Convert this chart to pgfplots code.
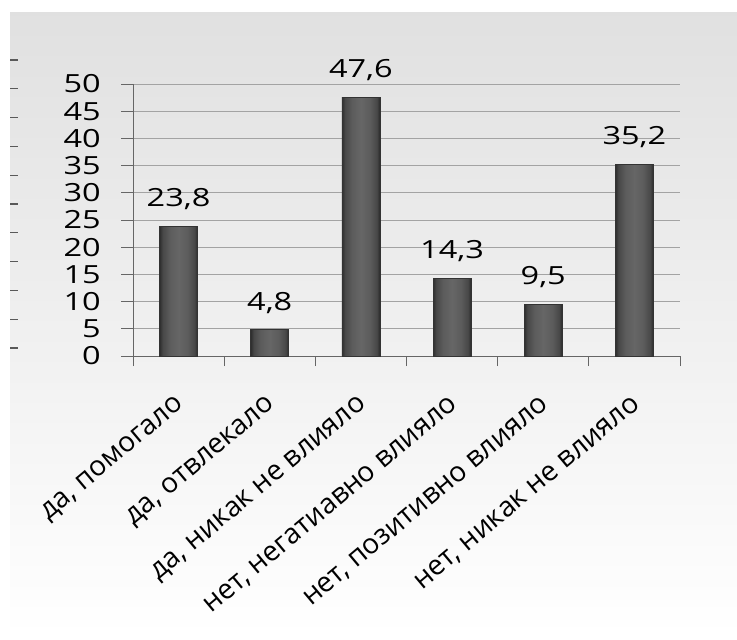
\documentclass[border=0pt]{standalone}
\usepackage{fontspec}
\setmainfont{Open Sans}[FakeStretch=1.3]
\newfontfamily\labfont{Open Sans}
\usepackage{pgfplots}
\pgfplotsset{compat=1.18}
\pgfplotsset{/pgf/number format/assume math mode=true}
\pgfdeclarehorizontalshading{barshade}{100bp}{color(0bp)=(black!82); color(25bp)=(black!82); color(29bp)=(black!72); color(38bp)=(black!64); color(50bp)=(black!60); color(62bp)=(black!64); color(71bp)=(black!72); color(75bp)=(black!84); color(100bp)=(black!84)}
\begin{document}
\begin{tikzpicture}
\fill[white] (0pt,0pt) rectangle (737pt,640pt);
\shade[top color=black!12, bottom color=white] (10pt,3pt) rectangle (737pt,627pt);
\begin{axis}[at={(133pt,284pt)}, anchor=origin, scale only axis,
  width=547pt, height=272pt,
  xmin=0, xmax=6, ymin=0, ymax=50,
  ytick={0,5,...,50},
  ymajorgrids, grid style={gray!72, line width=0.8pt},
  axis lines*=left, axis line style={gray!80!black, line width=0.8pt},
  tick align=outside,
  major tick length=12pt, minor tick length=10pt,
  tick style={gray!80!black, line width=0.8pt},
  xtick={0.5,1.5,2.5,3.5,4.5,5.5},
  major x tick style={draw=none},
  minor xtick={0,1,2,3,4,5,6},
  xticklabels={да{,} помогало, да{,} отвлекало, да{,} никак не влияло, нет{,} негатиавно влияло, нет{,} позитивно влияло, нет{,} никак не влияло},
  xticklabel style={font=\labfont\fontsize{28}{32}\selectfont, inner sep=0pt, xshift=3pt, yshift=-34pt, rotate=40, anchor=east},
  yticklabel style={font=\fontsize{25}{30}\selectfont, anchor=east, inner sep=0pt, xshift=-20pt},
  ybar, bar width=38pt, bar shift=0pt,
  nodes near coords={\pgfmathprintnumber[fixed,fixed zerofill,precision=1,use comma]{\pgfplotspointmeta}},
  every node near coord/.append style={font=\fontsize{25}{30}\selectfont, text=black, anchor=south, inner sep=0pt, yshift=16pt},
  clip=false,
  mybar/.style={draw=black!80, line width=0.8pt, shade, shading=barshade},
]
\addplot[mybar] coordinates {(0.5,23.8)};
\addplot[mybar] coordinates {(1.5,4.8)};
\addplot[mybar] coordinates {(2.5,47.6)};
\addplot[mybar] coordinates {(3.5,14.3)};
\addplot[mybar] coordinates {(4.5,9.5)};
\addplot[mybar] coordinates {(5.5,35.2)};
\end{axis}
% cropped neighbouring axis (ticks only)
\begin{axis}[at={(18pt,292pt)}, anchor=origin, scale only axis,
  width=1pt, height=288pt, ymin=0, ymax=10, ytick={0,...,10}, yticklabels={},
  xmin=0, xmax=1, hide x axis, axis y line*=left, y axis line style={draw=none},
  tick align=outside, major tick length=8pt, tick style={gray!70!black, line width=1.3pt}]
\addplot[draw=none] coordinates {(0,0)};
\end{axis}
\pgfresetboundingbox
\path[use as bounding box] (0pt,0pt) rectangle (737pt,640pt);
\end{tikzpicture}
\end{document}
